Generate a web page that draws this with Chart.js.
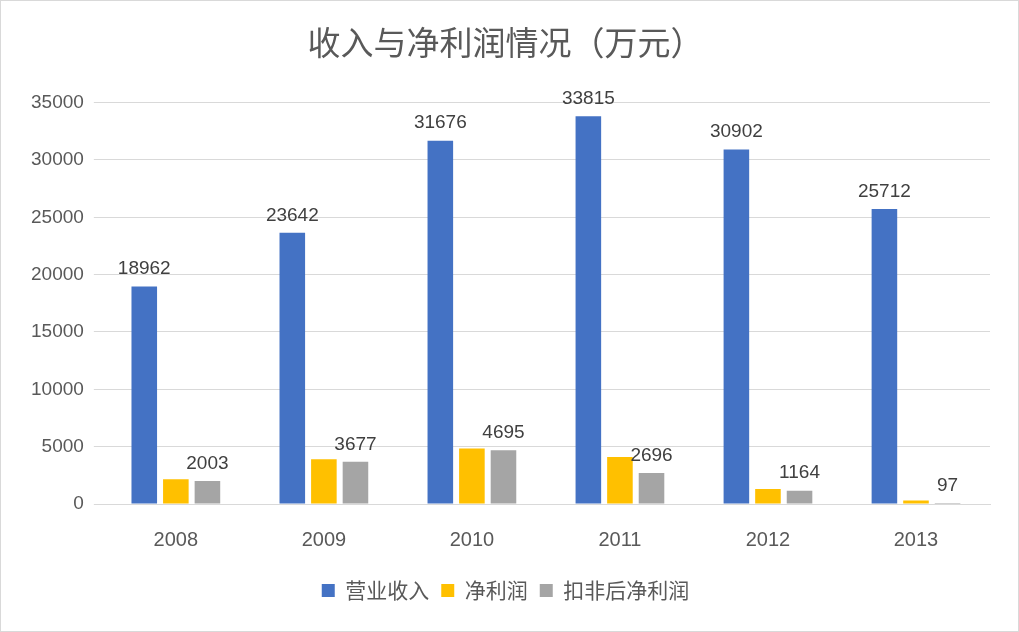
<!DOCTYPE html>
<html>
<head>
<meta charset="utf-8">
<script src="https://cdn.jsdelivr.net/npm/chart.js@4/dist/chart.umd.min.js"></script>
<style>
html, body { margin: 0; padding: 0; background: #fff; }
#wrap { width: 1017px; height: 630px; border: 1px solid #d9d9d9; }
</style>
</head>
<body>
<div id="wrap"><canvas id="chart" width="1017" height="630"></canvas></div>
<script>
// Données du graphique
const years = ['2008', '2009', '2010', '2011', '2012', '2013'];
const revenue = [18962, 23642, 31676, 33815, 30902, 25712];
const netProfit = [2150, 3900, 4850, 4100, 1300, 300];
const deductedProfit = [2003, 3677, 4695, 2696, 1164, 97];
const yTicks = [0, 5000, 10000, 15000, 20000, 25000, 30000, 35000];

// Étiquettes de valeurs au-dessus des barres
const valueLabels = {
    id: 'valueLabels',
    afterDatasetsDraw(chart) {
        const ctx = chart.ctx;
        ctx.save();
        ctx.font = '19px "Liberation Sans", "Noto Sans", sans-serif';
        ctx.fillStyle = '#404040';
        ctx.textAlign = 'center';
        ctx.textBaseline = 'bottom';
        chart.data.datasets.forEach((ds, i) => {
            if (!ds.showLabels) return;
            chart.getDatasetMeta(i).data.forEach((bar, j) => {
                ctx.fillText(ds.data[j], bar.x, bar.y - 8);
            });
        });
        ctx.restore();
    }
};

const ctx = document.getElementById('chart').getContext('2d');
new Chart(ctx, {
    type: 'bar',
    data: {
        labels: years,
        datasets: [
            { label: '营业收入', data: revenue, backgroundColor: '#4472C4', showLabels: true },
            { label: '净利润', data: netProfit, backgroundColor: '#FFC000', showLabels: false },
            { label: '扣非后净利润', data: deductedProfit, backgroundColor: '#A5A5A5', showLabels: true }
        ]
    },
    options: {
        responsive: false,
        animation: false,
        layout: { padding: { left: 20, right: 28, top: 0, bottom: 20 } },
        datasets: { bar: { categoryPercentage: 0.64, barPercentage: 0.81 } },
        scales: {
            x: {
                grid: { display: false },
                border: { color: '#d9d9d9' },
                ticks: { color: '#595959', font: { size: 20, family: '"Liberation Sans", "Noto Sans", sans-serif' }, padding: 16 }
            },
            y: {
                min: 0, max: 35000,
                afterBuildTicks: axis => { axis.ticks = yTicks.map(v => ({ value: v })); },
                grid: { color: '#d9d9d9' },
                border: { display: false },
                ticks: {
                    color: '#595959', padding: 10,
                    font: { size: 19, family: '"Liberation Sans", "Noto Sans", sans-serif' },
                    callback: v => String(v)
                }
            }
        },
        plugins: {
            title: {
                display: true,
                text: '收入与净利润情况（万元）',
                color: '#595959',
                font: { size: 33, family: '"Noto Sans CJK SC", sans-serif', weight: 'normal' },
                padding: { top: 22, bottom: 40 }
            },
            legend: {
                position: 'bottom',
                labels: {
                    color: '#595959',
                    boxWidth: 13, boxHeight: 13,
                    padding: 12,
                    font: { size: 21, family: '"Noto Sans CJK SC", sans-serif' }
                }
            },
            tooltip: { enabled: false }
        }
    },
    plugins: [valueLabels]
});
</script>
</body>
</html>
